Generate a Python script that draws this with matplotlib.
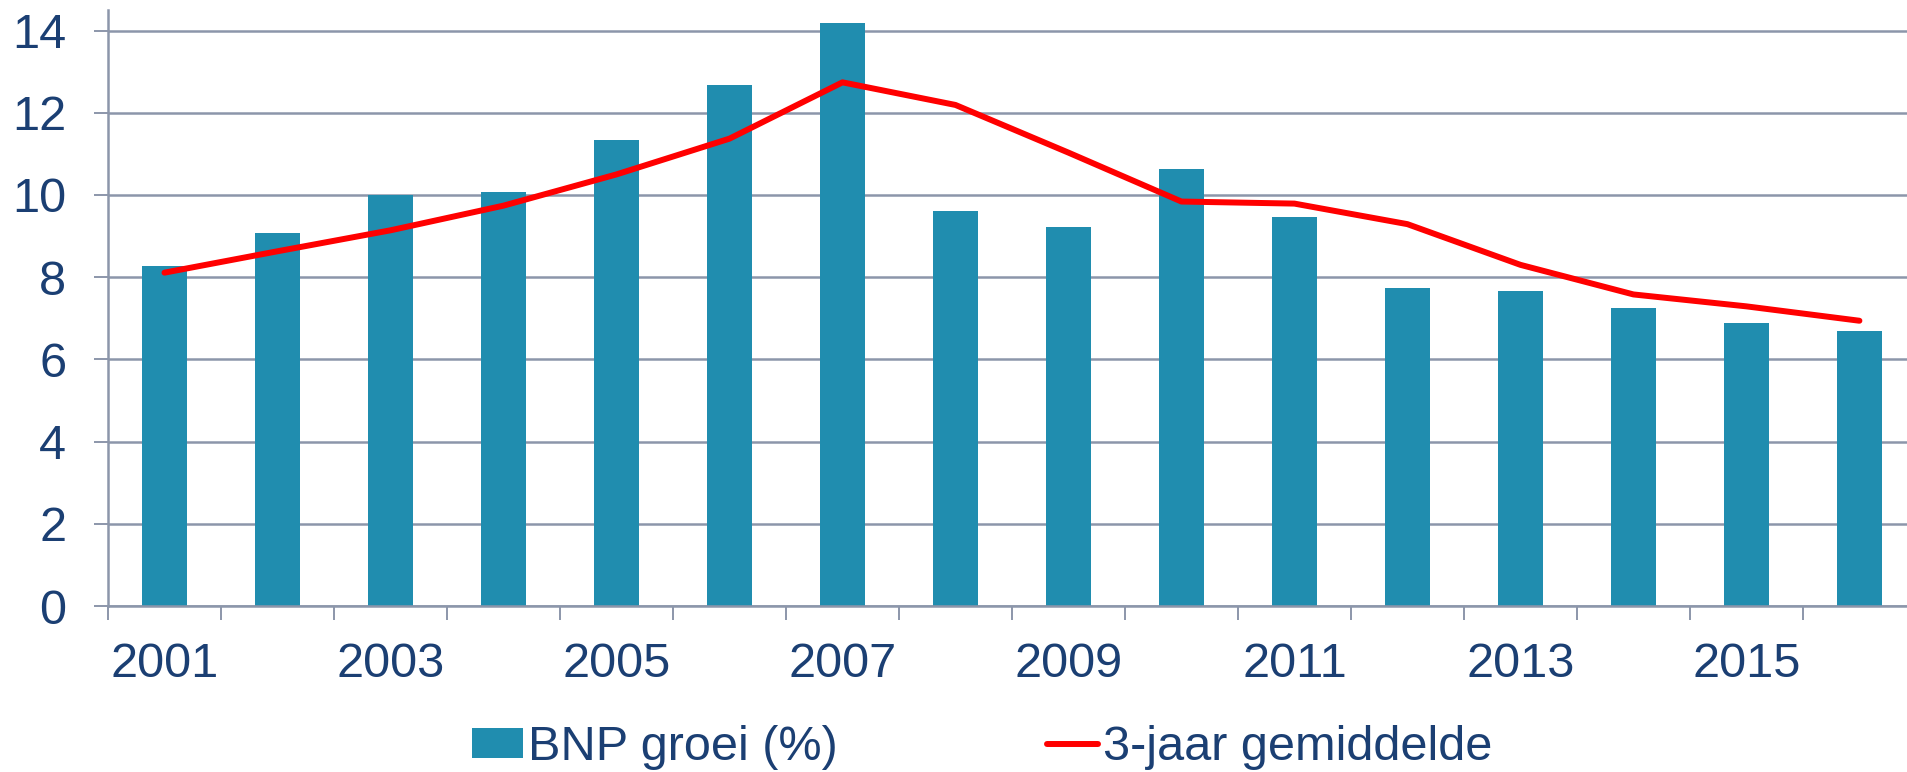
import matplotlib
matplotlib.use("Agg")
import matplotlib.pyplot as plt
import numpy as np

# Data
jaren = [2001, 2002, 2003, 2004, 2005, 2006, 2007, 2008,
         2009, 2010, 2011, 2012, 2013, 2014, 2015, 2016]
bnp_groei = [8.28, 9.08, 10.0, 10.07, 11.34, 12.68, 14.18, 9.62,
             9.23, 10.62, 9.47, 7.74, 7.67, 7.26, 6.89, 6.69]
gemiddelde_3j = [8.11, 8.63, 9.14, 9.74, 10.5, 11.37, 12.74, 12.19,
                 11.03, 9.84, 9.79, 9.29, 8.30, 7.58, 7.29, 6.94]

blauw = '#208DAF'
rood = '#FF0000'
tekst = '#1B3F73'
grijs = '#8C96AA'

plt.rcParams['font.family'] = ['Liberation Sans', 'DejaVu Sans']

fig = plt.figure(figsize=(19.08, 7.72), dpi=100)
ax = fig.add_axes([108 / 1908, 1 - 606 / 772, 1 - 108 / 1908, (606 - 10) / 772])

x = np.arange(len(jaren))
staven = ax.bar(x, bnp_groei, width=0.40, color=blauw, label='BNP groei (%)', zorder=2)
lijn, = ax.plot(x, gemiddelde_3j, color=rood, linewidth=4.3, label='3-jaar gemiddelde',
                solid_capstyle='round', zorder=3)

ax.set_xlim(-0.5, 15.43)
ax.set_ylim(0, 14.5)
ax.set_yticks(range(0, 15, 2))
ax.yaxis.grid(True, color=grijs, linewidth=1.8, zorder=0)
ax.set_axisbelow(True)

# ticks at category boundaries, labels every other year
ax.set_xticks(np.arange(-0.5, 15.5, 1.0))
ax.set_xticklabels([])
ax.set_xticks(x[::2], minor=True)
ax.set_xticklabels([str(j) for j in jaren[::2]], minor=True)
ax.tick_params(axis='x', which='major', direction='out', length=10, width=1.4,
               color=grijs)
ax.tick_params(axis='x', which='minor', length=0, pad=26, labelsize=35,
               labelcolor=tekst)
ax.tick_params(axis='y', direction='out', length=10, width=1.4, color=grijs,
               pad=20, labelsize=35, labelcolor=tekst)
ax.set_xlim(-0.5, 15.43)

for s in ['top', 'right']:
    ax.spines[s].set_visible(False)
for s in ['left', 'bottom']:
    ax.spines[s].set_color(grijs)
    ax.spines[s].set_linewidth(1.8)

fig.legend([staven, lijn], ['BNP groei (%)', '3-jaar gemiddelde'],
           loc='center', bbox_to_anchor=(0.5147, 1 - 748 / 772), ncol=2,
           frameon=False, fontsize=35, labelcolor=tekst, handlelength=1.05,
           handleheight=0.58, handletextpad=0.1, columnspacing=4.3,
           borderaxespad=0)

fig.savefig('out.png', dpi=100)
